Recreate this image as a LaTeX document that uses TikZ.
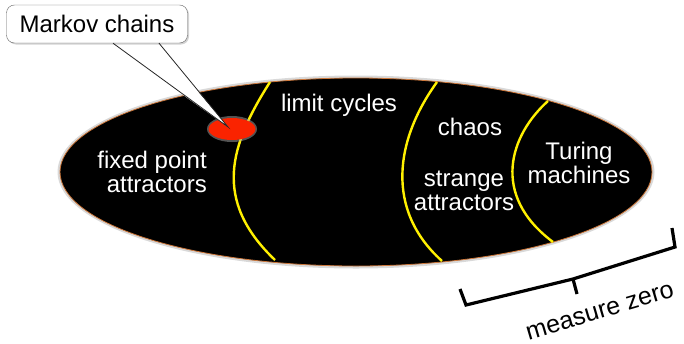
\documentclass[tikz,border=0pt]{standalone}
\usepackage{fontspec}
\setmainfont{Liberation Sans}
\usetikzlibrary{shadows,shapes.geometric}
\begin{document}
\begin{tikzpicture}[x=1pt,y=-1pt,
  lbl/.style={text=white,font=\fontsize{24}{23.5}\selectfont,inner sep=0pt},
  sep/.style={draw={rgb,255:red,255;green,240;blue,0},line width=2.4pt},
  brk/.style={draw=black,line width=3.2pt,line join=miter}]
\useasboundingbox (0,0) rectangle (684,343);
% main ellipse
\fill[gray!30] (356,172) ellipse [x radius=298.5pt, y radius=96.5pt];
\filldraw[fill=black,draw={rgb,255:red,205;green,120;blue,60},line width=0.8pt]
  (356,172) ellipse [x radius=296pt, y radius=94pt];
\node[coordinate] (E) at (356,172) {};
% separators
\draw[sep] (270,82) .. controls (230,145) and (212,200) .. (275,260);
\draw[sep] (437,82) .. controls (395,140) and (385,210) .. (442,261);
\draw[sep] (548,101) .. controls (510,135) and (490,195) .. (553,242);
% red dot
\fill[gray!70,opacity=0.5] (232,129) ellipse [x radius=25pt, y radius=13pt];
\node[fill={rgb,255:red,250;green,35;blue,0},ellipse,minimum width=47pt,minimum height=22pt,inner sep=0pt] (dot) at (232,129) {};
% labels
\node[lbl,align=right,anchor=east] (fpa) at (207,172) {fixed point\\attractors};
\node[lbl] (lc) at (339,105) {limit cycles};
\node[lbl] (ch) at (470,127) {chaos};
\node[lbl,align=center] (sa) at (464,191) {strange\\attractors};
\node[lbl,align=center] (tm) at (579,163) {Turing\\machines};
% callout
\node[draw=gray!80!black,fill=white,rounded corners=8pt,minimum width=181pt,minimum height=38pt,
  drop shadow={opacity=0.35,shadow xshift=1.5pt,shadow yshift=-1.5pt},
  font=\fontsize{24}{24}\selectfont,inner sep=0pt] (mk) at (97,24) {Markov chains};
\coordinate (tl) at ([xshift=16pt]mk.south);
\coordinate (tr) at ([xshift=62pt]mk.south);
\coordinate (tip) at ([shift={(-4,-2)}]dot.center);
\fill[white] ([yshift=-2pt]tl) -- (tip) -- ([yshift=-2pt]tr) -- cycle;
\draw[gray!30!black,line width=0.8pt] (tl) -- (tip) -- (tr);
% bracket
\coordinate (b1) at (460,289);
\coordinate (b2) at (466,305);
\coordinate (bm) at (573,279);
\coordinate (bt) at (577,294);
\coordinate (b3) at (675,247);
\coordinate (b4) at (672,228);
\draw[brk] (b1) -- (b2) -- (bm) -- (b3) -- (b4);
\draw[brk] (bm) -- (bt);
\node[font=\fontsize{25}{26}\selectfont,rotate=16.5,inner sep=0pt] (mz) at (600,312) {measure zero};
\end{tikzpicture}
\end{document}
